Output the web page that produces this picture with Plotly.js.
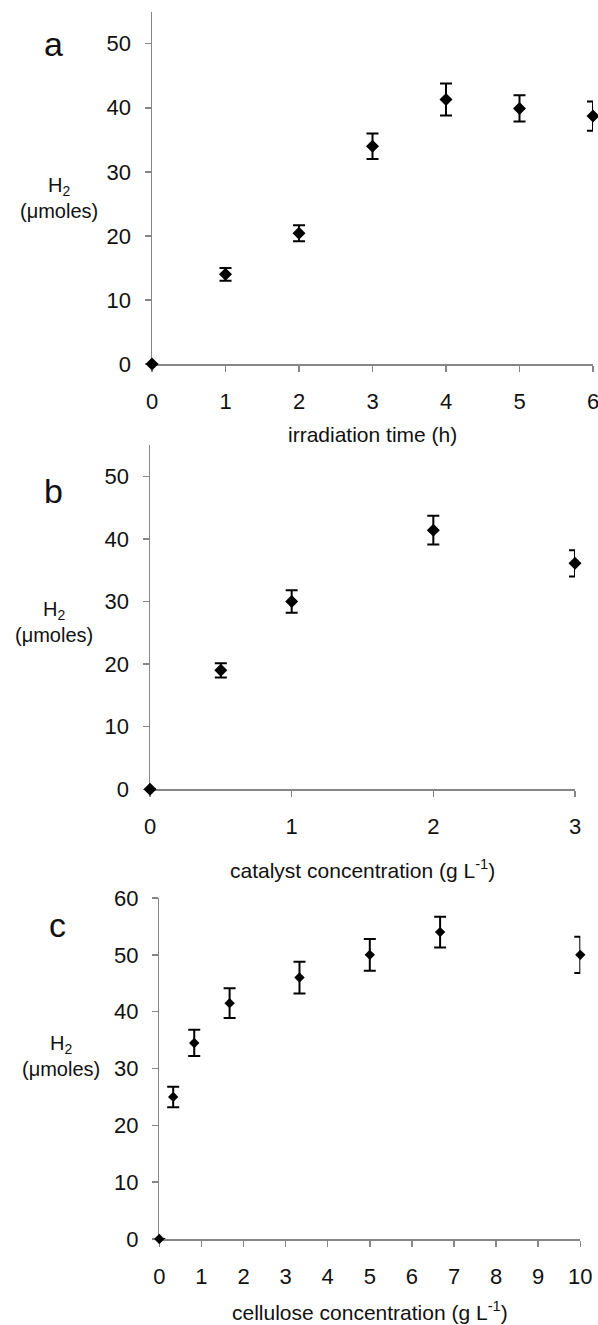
<!DOCTYPE html>
<html>
<head>
<meta charset="utf-8">
<script src="https://cdn.plot.ly/plotly-3.0.1.min.js"></script>
<style>html,body{margin:0;padding:0;background:#fff;}#chart{width:598px;height:1325px;}</style>
</head>
<body>
<div id="chart"></div>
<script>
// Panel a: irradiation time
var timeH = [0, 1, 2, 3, 4, 5, 6];
var h2Time = [0, 14.0, 20.4, 34.0, 41.3, 39.9, 38.7];
var errTime = [0, 1.0, 1.25, 2.0, 2.5, 2.05, 2.3];

// Panel b: catalyst concentration
var catalystConc = [0, 0.5, 1, 2, 3];
var h2Catalyst = [0, 19.0, 30.0, 41.4, 36.1];
var errCatalyst = [0, 1.15, 1.8, 2.3, 2.1];

// Panel c: cellulose concentration
var celluloseConc = [0, 0.33, 0.83, 1.67, 3.33, 5, 6.67, 10];
var h2Cellulose = [0, 25.0, 34.5, 41.5, 46.0, 50.0, 54.0, 50.0];
var errCellulose = [0, 1.8, 2.3, 2.6, 2.8, 2.8, 2.7, 3.2];

var xTitles = ['irradiation time (h)', 'catalyst concentration (g L<sup>-1</sup>)', 'cellulose concentration (g L<sup>-1</sup>)'];
var panelLetters = ['a', 'b', 'c'];
var yLabel = 'H<sub>2</sub><br>(μmoles)';

var W = 598, H = 1325;
function px(x) { return x / W; }
function py(y) { return 1 - y / H; }

var FONT = '"Liberation Sans", Arial, Helvetica, sans-serif';
var AXC = '#868686';
var TXT = '#111111';

function mkTrace(x, y, e, xa, ya, size, capw) {
  return {
    type: 'scatter', mode: 'markers', x: x, y: y, xaxis: xa, yaxis: ya,
    marker: {symbol: 'diamond', size: size, color: '#000'},
    error_y: {type: 'data', array: e, visible: true, color: '#000', thickness: 2, width: capw},
    cliponaxis: false, showlegend: false, hoverinfo: 'x+y'
  };
}

var data = [
  mkTrace(timeH, h2Time, errTime, 'x', 'y', 10, 6),
  mkTrace(catalystConc, h2Catalyst, errCatalyst, 'x2', 'y2', 10, 6),
  mkTrace(celluloseConc, h2Cellulose, errCellulose, 'x3', 'y3', 8, 6)
];

function xAx(domain, range, anchor) {
  return {domain: domain, range: range, anchor: anchor, dtick: 1, tick0: 0,
    showline: true, linecolor: AXC, linewidth: 1.5, ticks: 'outside', ticklen: 6, tickwidth: 1.5, tickcolor: AXC,
    showgrid: false, zeroline: false, fixedrange: true, ticklabelstandoff: 11, layer: 'below traces',
    ticklabeloverflow: 'allow',
    tickfont: {family: FONT, size: 22, color: TXT}};
}
function yAx(domain, range, anchor) {
  return {domain: domain, range: range, anchor: anchor, dtick: 10, tick0: 0,
    showline: true, linecolor: AXC, linewidth: 1.5, ticks: 'outside', ticklen: 6, tickwidth: 1.5, tickcolor: AXC,
    showgrid: false, zeroline: false, fixedrange: true, ticklabelstandoff: 9, layer: 'below traces',
    ticklabeloverflow: 'allow',
    tickfont: {family: FONT, size: 22, color: TXT}};
}

var ann = [];
function addText(t, x, y, size) {
  ann.push({text: t, xref: 'paper', yref: 'paper', x: px(x), y: py(y), xanchor: 'center', yanchor: 'middle',
    showarrow: false, font: {family: FONT, size: size, color: TXT}});
}
// axis titles
addText(xTitles[0], 372, 435, 21);
addText(xTitles[1], 362, 869, 21);
addText(xTitles[2], 370, 1311, 21);
// panel letters
addText(panelLetters[0], 53, 44, 34);
addText(panelLetters[1], 53, 491, 34);
addText(panelLetters[2], 57, 925, 34);
// y labels
addText(yLabel, 59, 198, 20);
addText(yLabel, 54, 622, 20);
addText(yLabel, 61, 1056, 20);

var layout = {
  width: W, height: H, margin: {l: 0, r: 0, t: 0, b: 0},
  paper_bgcolor: '#fff', plot_bgcolor: 'rgba(0,0,0,0)',
  font: {family: FONT, color: TXT},
  xaxis: xAx([px(152), px(593)], [0, 6], 'y'),
  yaxis: yAx([py(364), py(11.7)], [0, 55], 'x'),
  xaxis2: xAx([px(150), px(575)], [0, 3], 'y2'),
  yaxis2: yAx([py(789.3), py(445)], [0, 55], 'x2'),
  xaxis3: xAx([px(159.3), px(580.3)], [0, 10], 'y3'),
  yaxis3: yAx([py(1239), py(898)], [0, 60], 'x3'),
  annotations: ann
};

Plotly.newPlot('chart', data, layout, {staticPlot: true, displayModeBar: false});
</script>
</body>
</html>
